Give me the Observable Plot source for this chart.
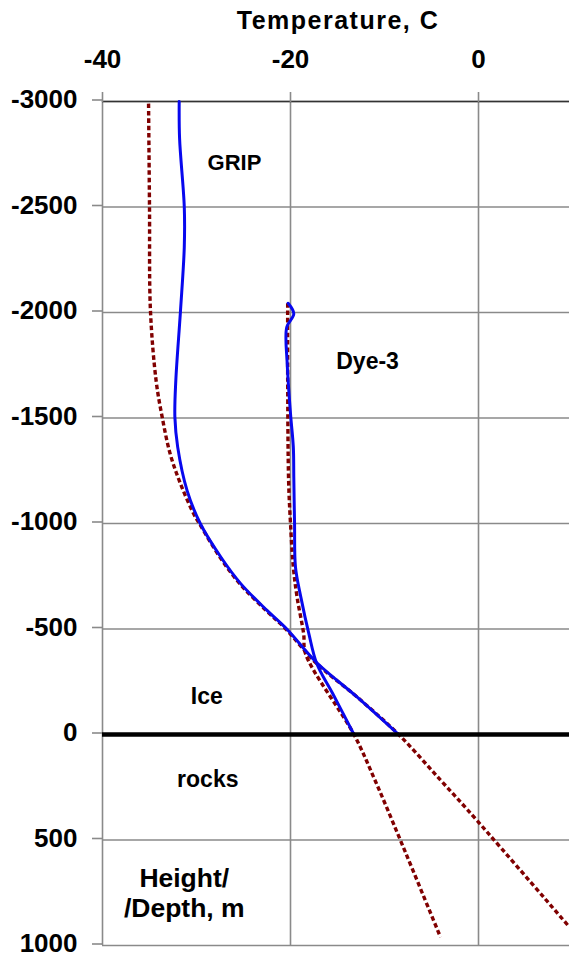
<!DOCTYPE html>
<html><head><meta charset="utf-8">
<script src="https://cdn.jsdelivr.net/npm/d3@7"></script>
<script src="https://cdn.jsdelivr.net/npm/@observablehq/plot@0.6"></script>
<style>body{margin:0;background:#fff;overflow:hidden} svg{display:block}</style>
</head><body><div id="chart"></div>
<script>
// GRIP measured (blue)
const gripDepth = [-3000, -2825, -2500, -2310, -2010, -1678, -1504, -1362, -1156, -1000, -840, -715, -588, -500, -340, -177, 0];
const gripTemp  = [-31.84, -31.8, -31.3, -31.3, -31.7, -32.2, -32.3, -32.0, -31.0, -29.6, -27.4, -25.3, -22.5, -20.4, -17.2, -12.9, -8.5];
// Dye-3 measured (blue)
const dyeDepth = [-2044, -1994, -1930, -1757, -1521, -1362, -1220, -1000, -793, -651, -478, -335, -193, 0];
const dyeTemp  = [-20.25, -19.65, -20.4, -20.35, -20.0, -19.7, -19.65, -19.57, -19.47, -18.9, -18.05, -17.2, -15.5, -13.25];
// GRIP model (dashed)
const gripModelDepth = [-2990, -2500, -2010, -1678, -1504, -1330, -1188, -1046, -1000, -840, -715, -588, -500, -340, -177, 0, 218, 408, 913];
const gripModelTemp  = [-35.1, -35.0, -34.9, -34.3, -33.65, -32.8, -31.7, -30.3, -29.7, -27.5, -25.4, -22.6, -20.5, -17.3, -12.9, -8.5, -4.0, -0.15, 9.68];
// Dye-3 model (dashed)
const dyeModelDepth = [-2044, -1678, -1200, -1000, -793, -651, -477, -383, 0, 218, 502, 961];
const dyeModelTemp  = [-20.3, -20.3, -20.2, -20.0, -19.7, -19.3, -18.6, -18.4, -13.25, -11.0, -8.3, -4.04];

const xTicks = [-40, -20, 0];
const yTicks = [-3000, -2500, -2000, -1500, -1000, -500, 0, 500, 1000];
const xDomain = [-40, 9.68];
const yDomain = [-3000, 1000];
const titleText = "Temperature, C";

const labels = [
  {text: "GRIP", t: -25.96, d: -2711, size: 22},
  {text: "Dye-3", t: -11.8, d: -1773, size: 23},
  {text: "Ice", t: -28.9, d: -185, size: 23},
  {text: "rocks", t: -28.8, d: 209, size: 23},
  {text: "Height/\n/Depth, m", t: -31.3, d: 749, size: 26.5}
];

const toRows = (ts, ds) => ts.map((t, i) => ({t, d: ds[i]}));
const grip = toRows(gripTemp, gripDepth);
const dye = toRows(dyeTemp, dyeDepth);
const gripModel = toRows(gripModelTemp, gripModelDepth);
const dyeModel = toRows(dyeModelTemp, dyeModelDepth);

const font = "'Liberation Sans', Arial, sans-serif";
const red = "#800000";
const blue = "#0808ee";
const grid = "#8a8a8a";
const dashed = {stroke: red, strokeWidth: 3.4, strokeDasharray: "4.6,2.8", strokeLinecap: "butt", strokeLinejoin: "miter", curve: "catmull-rom"};
const solid = {stroke: blue, strokeWidth: 3, curve: "catmull-rom"};

const chart = Plot.plot({
  width: 569,
  height: 956,
  marginTop: 101,
  marginLeft: 102,
  marginRight: 0,
  marginBottom: 11,
  style: {fontFamily: font, fontWeight: "bold", background: "#fff", color: "#000"},
  x: {domain: xDomain, range: [102, 569]},
  y: {domain: yDomain, range: [101, 945]},
  marks: [
    Plot.gridX(xTicks, {stroke: grid, strokeOpacity: 1, strokeWidth: 1.6}),
    Plot.gridY(yTicks, {stroke: grid, strokeOpacity: 1, strokeWidth: 1.6}),
    Plot.ruleY([-3000], {stroke: "#333", strokeWidth: 1.6}),
    Plot.axisX(xTicks, {anchor: "top", tickSize: 10, stroke: grid, strokeWidth: 1.6, tickPadding: 32,
      lineAnchor: "middle", fontSize: 26, fontWeight: "bold", tickFormat: d => String(d), label: null}),
    Plot.axisY(yTicks, {anchor: "left", tickSize: 10, stroke: grid, strokeWidth: 1.6, tickPadding: 15,
      fontSize: 26, fontWeight: "bold", dy: -1.5, tickFormat: d => String(d), label: null}),
    Plot.line(gripModel, {x: "t", y: "d", ...dashed}),
    Plot.line(dyeModel, {x: "t", y: "d", ...dashed}),
    Plot.line(grip, {x: "t", y: "d", ...solid}),
    Plot.line(dye, {x: "t", y: "d", ...solid}),
    Plot.ruleY([0], {stroke: "#000", strokeWidth: 4.5}),
    Plot.text(labels, {x: "t", y: "d", text: "text", fontSize: d => d.size, fontWeight: "bold", fill: "#000", lineAnchor: "middle", lineHeight: 1.12}),
    Plot.text([titleText], {frameAnchor: "top", dy: -81, fontSize: 25, fontWeight: "bold", fill: "#000", lineAnchor: "middle", dx: 2})
  ]
});
document.getElementById("chart").appendChild(chart);
// widen the title letters a little, as in the reference
chart.querySelectorAll("text").forEach(t => { if (t.textContent === titleText) t.style.letterSpacing = "1.5px"; });
</script>
</body></html>
